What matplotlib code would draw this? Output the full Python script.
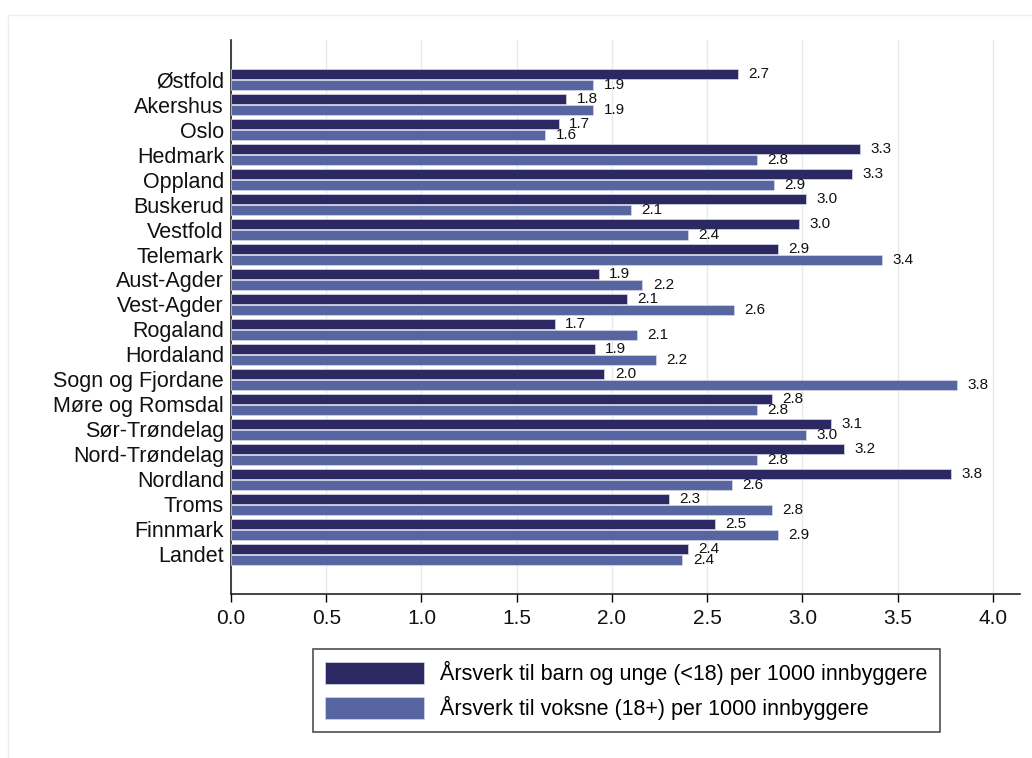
import matplotlib
matplotlib.use("Agg")
import matplotlib.pyplot as plt
import numpy as np

plt.rcParams['font.family'] = ['Liberation Sans', 'DejaVu Sans']

fylker = ["Østfold", "Akershus", "Oslo", "Hedmark", "Oppland", "Buskerud",
          "Vestfold", "Telemark", "Aust-Agder", "Vest-Agder", "Rogaland",
          "Hordaland", "Sogn og Fjordane", "Møre og Romsdal", "Sør-Trøndelag",
          "Nord-Trøndelag", "Nordland", "Troms", "Finnmark", "Landet"]
barn = [2.66, 1.76, 1.72, 3.30, 3.26, 3.02, 2.98, 2.87, 1.93, 2.08,
        1.70, 1.91, 1.96, 2.84, 3.15, 3.22, 3.78, 2.30, 2.54, 2.40]
voksne = [1.90, 1.90, 1.65, 2.76, 2.85, 2.10, 2.40, 3.42, 2.16, 2.64,
          2.13, 2.23, 3.81, 2.76, 3.02, 2.76, 2.63, 2.84, 2.87, 2.37]
xticks = [0.0, 0.5, 1.0, 1.5, 2.0, 2.5, 3.0, 3.5, 4.0]

lab_barn = "Årsverk til barn og unge (<18) per 1000 innbyggere"
lab_voksne = "Årsverk til voksne (18+) per 1000 innbyggere"

c_dark = '#2b2862'
c_light = '#5766a1'

fig = plt.figure(figsize=(10.32, 7.58), dpi=100)
# faint outer frame like the source graph
fig.patches.append(plt.Rectangle((0.008, -0.01), 1.0, 0.99, transform=fig.transFigure,
                                 fill=False, edgecolor='#eeeeee', linewidth=1))
ax = fig.add_axes([0.2238, 0.2164, 0.7642, 0.7308])

y = np.arange(len(fylker))
h = 0.37
off = 0.22
b1 = ax.barh(y - off, barn, height=h, color=c_dark, edgecolor='#d8d8e8', linewidth=0.5,
             label=lab_barn, zorder=3)
b2 = ax.barh(y + off, voksne, height=h, color=c_light, edgecolor='#d8d8e8', linewidth=0.5,
             label=lab_voksne, zorder=3)

for yy, v in zip(y - off, barn):
    ax.text(v + 0.055, yy, f"{v:.1f}", va='center', ha='left', fontsize=11, color='#111111')
for yy, v in zip(y + off, voksne):
    ax.text(v + 0.055, yy, f"{v:.1f}", va='center', ha='left', fontsize=11, color='#111111')

ax.set_xlim(0, 4.14)
ax.set_ylim(len(fylker) - 1 + 1.58, -1.58)
ax.set_yticks(y)
ax.set_yticklabels(fylker, fontsize=15.5, color='#111111')
ax.tick_params(axis='y', length=0, pad=5)
ax.set_xticks(xticks)
ax.set_xticklabels([f"{t:.1f}" for t in xticks], fontsize=15, color='#111111')
ax.tick_params(axis='x', length=6, width=1, pad=5)

ax.grid(axis='x', color='#e2ebef', linewidth=1, zorder=0)
ax.set_axisbelow(True)
for s in ['top', 'right']:
    ax.spines[s].set_visible(False)
for s in ['left', 'bottom']:
    ax.spines[s].set_color('#222222')
    ax.spines[s].set_linewidth(1.2)

leg = fig.legend(handles=[b1, b2], loc='center', bbox_to_anchor=(0.607, 0.089),
                 fontsize=15.5, frameon=True, fancybox=False, edgecolor='#222222',
                 handlelength=4.6, handleheight=1.2, handletextpad=0.75,
                 labelspacing=0.5, borderpad=0.55)
leg.get_frame().set_linewidth(1.2)

fig.savefig("out.png", dpi=100)
